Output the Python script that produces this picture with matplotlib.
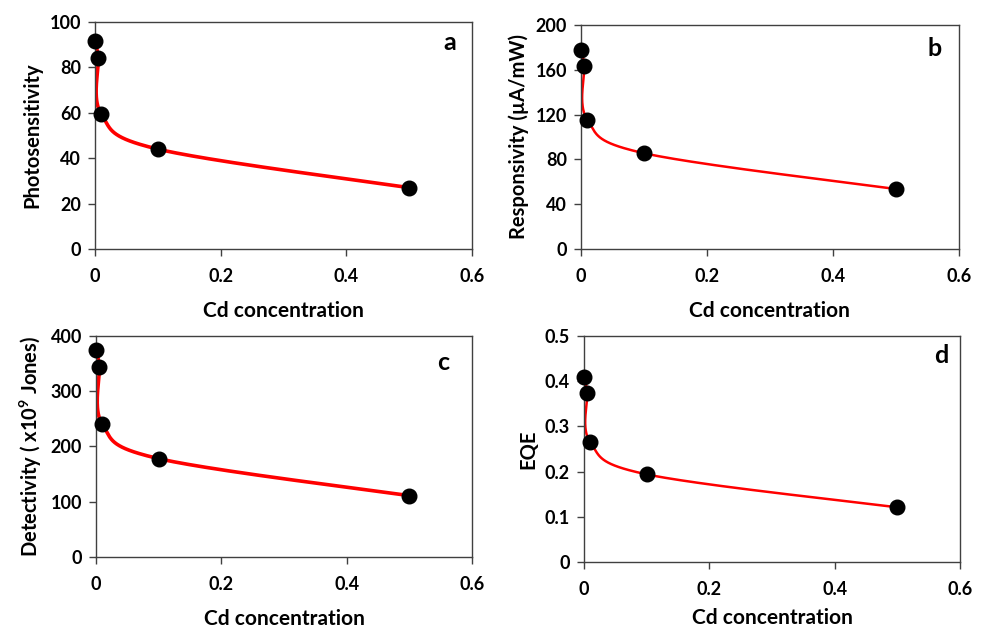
import numpy as np
import matplotlib
matplotlib.use("Agg")
import matplotlib.pyplot as plt

plt.rcParams['font.family'] = ['Lato', 'DejaVu Sans']
plt.rcParams['font.weight'] = 'bold'
plt.rcParams['mathtext.fontset'] = 'custom'
plt.rcParams['mathtext.rm'] = 'Lato:bold'
plt.rcParams['mathtext.default'] = 'rm'

cd = [0.0, 0.005, 0.01, 0.1, 0.5]
photosensitivity = [91.5, 84.0, 59.5, 44.0, 27.0]
responsivity = [178.0, 163.5, 115.5, 85.5, 53.5]
detectivity = [374.0, 344.0, 240.0, 178.0, 111.0]
eqe = [0.409, 0.375, 0.265, 0.194, 0.121]

panels = [
    dict(y=photosensitivity, ylabel="Photosensitivity", ylim=(0, 100), yticks=[0, 20, 40, 60, 80, 100],
         letter="a", pos=[0.0966, 0.6048, 0.3835, 0.3603], lw=2.6, lpos=(0.94, 0.91), yfmt="{:g}", xpad=11),
    dict(y=responsivity, ylabel="Responsivity (µA/mW)", ylim=(0, 200), yticks=[0, 40, 80, 120, 160, 200],
         letter="b", pos=[0.5910, 0.6048, 0.3845, 0.3556], lw=1.8, lpos=(0.936, 0.897), yfmt="{:g}", xpad=11),
    dict(y=detectivity, ylabel="Detectivity ( x10$^{9}$ Jones)", ylim=(0, 400), yticks=[0, 100, 200, 300, 400],
         letter="c", pos=[0.0977, 0.1159, 0.3825, 0.3508], lw=2.6, lpos=(0.923, 0.88), yfmt="{:g}", xpad=11),
    dict(y=eqe, ylabel="EQE", ylim=(0, 0.5), yticks=[0, 0.1, 0.2, 0.3, 0.4, 0.5],
         letter="d", pos=[0.5941, 0.1079, 0.3825, 0.3587], lw=1.8, lpos=(0.95, 0.916), yfmt="{:g}", xpad=7),
]

W, H = 9.83, 6.30
fig = plt.figure(figsize=(W, H), dpi=100)

def smooth_curve(xs, ys, xr, yr, aspect):
    # Catmull-Rom style smoothing in normalized screen space (like spreadsheet smoothed lines)
    px = np.asarray(xs) / xr
    py = np.asarray(ys) / yr * aspect
    P = np.column_stack([px, py])
    n = len(P)
    out = []
    for i in range(n - 1):
        p0 = P[i - 1] if i > 0 else P[i]
        p1 = P[i]
        p2 = P[i + 1]
        p3 = P[i + 2] if i + 2 < n else P[i + 1]
        c1 = p1 + (p2 - p0) / 6.0
        c2 = p2 - (p3 - p1) / 6.0
        t = np.linspace(0, 1, 60)[:, None]
        b = ((1 - t) ** 3) * p1 + 3 * ((1 - t) ** 2) * t * c1 + 3 * (1 - t) * t ** 2 * c2 + t ** 3 * p2
        out.append(b)
    B = np.vstack(out)
    return B[:, 0] * xr, B[:, 1] / aspect * yr

for p in panels:
    ax = fig.add_axes(p["pos"])
    l, b, w, h = p["pos"]
    aspect = (h * H) / (w * W)
    sx, sy = smooth_curve(cd, p["y"], 0.6, p["ylim"][1], aspect)
    ax.plot(sx, sy, color="#ff0000", lw=p["lw"], zorder=2, solid_capstyle="round")
    ax.plot(cd, p["y"], "o", color="black", ms=10.5, zorder=3, clip_on=False)
    ax.set_xlim(0, 0.6)
    ax.set_ylim(*p["ylim"])
    ax.set_xticks([0, 0.2, 0.4, 0.6])
    ax.set_xticklabels(["0", "0.2", "0.4", "0.6"])
    ax.set_yticks(p["yticks"])
    ax.set_yticklabels([p["yfmt"].format(v) for v in p["yticks"]])
    ax.tick_params(axis="x", direction="out", length=5, width=1, labelsize=13, color="#404040", pad=9)
    ax.tick_params(axis="y", direction="out", length=5, width=1, labelsize=13, color="#404040", pad=5)
    for lab in ax.get_xticklabels() + ax.get_yticklabels():
        lab.set_fontweight("bold")
    for s in ax.spines.values():
        s.set_color("#404040")
        s.set_linewidth(1.0)
    ax.set_xlabel("Cd concentration", fontsize=15, fontweight="bold", labelpad=p["xpad"])
    ax.set_ylabel(p["ylabel"], fontsize=14.5, fontweight="bold", labelpad=5)
    ax.text(p["lpos"][0], p["lpos"][1], p["letter"], transform=ax.transAxes, fontsize=18,
            fontweight="bold", ha="center", va="center")

fig.savefig("out.png", dpi=100)
